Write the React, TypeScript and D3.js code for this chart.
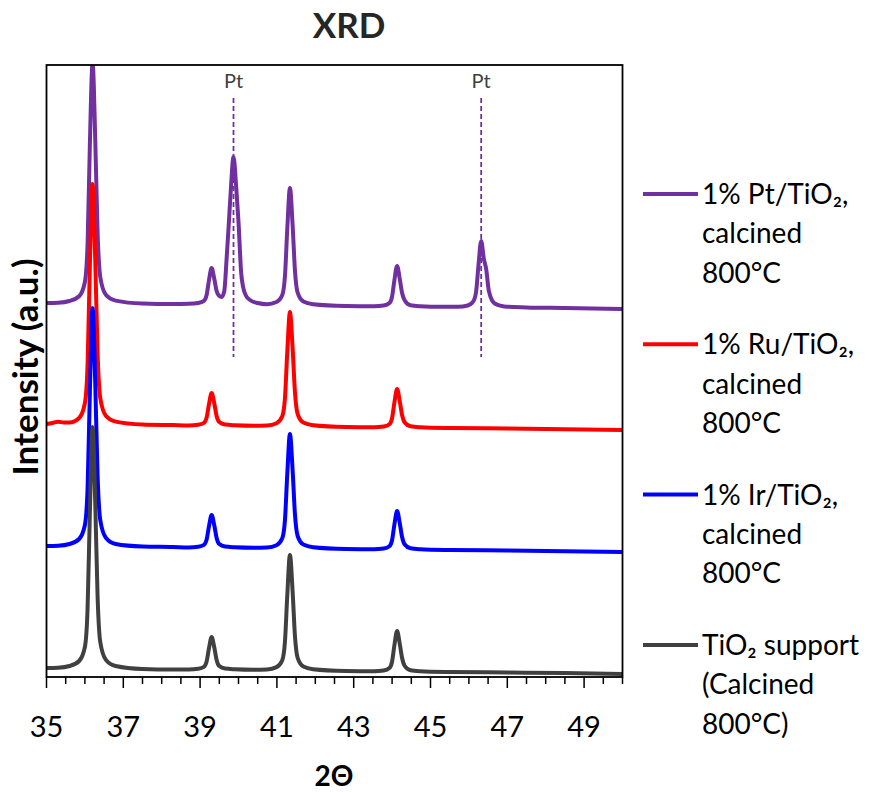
import React from "react";
import * as d3 from "d3";

// ---- data (2θ, intensity a.u. incl. vertical stacking offset) ----
const ptTiO2: [number, number][] = [
  [35, 374], [35.3, 374.3], [35.6, 376], [35.85, 380.7], [36.0, 395], [36.07, 433.8], [36.13, 533.6], [36.2, 614], [36.27, 537], [36.33, 445.6], [36.4, 400], [36.55, 382], [36.8, 376.4],
  [37.5, 373.5], [38.3, 373], [38.7, 373.2], [38.95, 374], [39.1, 376.2], [39.17, 382], [39.23, 396.5], [39.3, 409], [39.37, 398], [39.43, 386], [39.5, 381], [39.56, 380],
  [39.63, 386], [39.69, 418], [39.75, 455], [39.8, 487], [39.87, 520], [39.94, 490], [40.0, 455], [40.07, 404], [40.12, 390], [40.2, 381], [40.3, 377], [40.5, 374],
  [40.74, 372.8], [40.99, 375], [41.14, 382], [41.21, 400.8], [41.27, 447.8], [41.34, 489], [41.41, 451.4], [41.47, 406.7], [41.54, 384.3], [41.69, 375.5], [41.94, 372.8],
  [42.8, 371], [43.53, 370.7], [43.78, 371.5], [43.93, 374], [44.0, 380.5], [44.06, 396.8], [44.13, 411], [44.2, 398], [44.26, 384], [44.33, 376.5], [44.48, 371.7], [44.73, 370.8],
  [45.3, 370.2], [45.72, 370.2], [45.97, 371.5], [46.12, 376], [46.19, 386], [46.25, 412], [46.32, 436], [46.39, 418], [46.45, 408], [46.52, 386], [46.67, 373.5], [46.92, 370.5],
  [47.5, 369.6], [48.5, 369], [50, 368],
];

const ruTiO2: [number, number][] = [
  [35, 253], [35.15, 254], [35.3, 255.3], [35.45, 254.5], [35.6, 254.5], [35.85, 259], [36.0, 274], [36.07, 312.8], [36.13, 412.6], [36.2, 493], [36.27, 416], [36.33, 324.6], [36.4, 279], [36.55, 261], [36.8, 255.4],
  [37.5, 252.5], [38.3, 251.9], [38.7, 251.6], [38.95, 252.3], [39.1, 254.2], [39.17, 259.5], [39.23, 272.5], [39.3, 284], [39.37, 273.5], [39.43, 261.1], [39.5, 254.9], [39.65, 252.4], [39.9, 251.7],
  [40.4, 251.2], [40.74, 251.5], [40.99, 253.8], [41.14, 260.7], [41.21, 279], [41.27, 324.9], [41.34, 365], [41.41, 328.3], [41.47, 284.8], [41.54, 263], [41.69, 254.4], [41.94, 251.8],
  [42.8, 250], [43.53, 249.7], [43.78, 250.5], [43.93, 252.8], [44.0, 259], [44.06, 274.5], [44.13, 288], [44.2, 275.6], [44.26, 262], [44.33, 254.5], [44.48, 250.7], [44.73, 249.8],
  [45.5, 249], [47, 248.5], [48.5, 247.8], [50, 247],
];

const irTiO2: [number, number][] = [
  [35, 131], [35.3, 131.3], [35.6, 133], [35.85, 138], [36.0, 152], [36.07, 189], [36.13, 286], [36.2, 369], [36.27, 293], [36.33, 202], [36.4, 157], [36.55, 139], [36.8, 133],
  [37.5, 130.5], [38.3, 130], [38.7, 129.6], [38.95, 130.3], [39.1, 132.2], [39.17, 137.5], [39.23, 150.5], [39.3, 162], [39.37, 151.5], [39.43, 139.1], [39.5, 132.9], [39.65, 130.4], [39.9, 129.7],
  [40.4, 129.2], [40.74, 129.5], [40.99, 131.8], [41.14, 138.7], [41.21, 157], [41.27, 202.9], [41.34, 243], [41.41, 206.3], [41.47, 162.8], [41.54, 141], [41.69, 132.4], [41.94, 129.8],
  [42.8, 128], [43.53, 127.7], [43.78, 128.5], [43.93, 130.8], [44.0, 137], [44.06, 152.5], [44.13, 166], [44.2, 153.6], [44.26, 140], [44.33, 132.5], [44.48, 128.7], [44.73, 127.8],
  [45.5, 127], [47, 126.5], [48.5, 125.8], [50, 125],
];

const tiO2Support: [number, number][] = [
  [35, 9], [35.3, 9.3], [35.6, 11], [35.85, 16], [36.0, 30], [36.07, 69], [36.13, 165], [36.2, 250], [36.27, 173], [36.33, 81], [36.4, 35], [36.55, 17], [36.8, 11],
  [37.5, 8], [38.3, 7.5], [38.7, 7.6], [38.95, 8.3], [39.1, 10.2], [39.17, 15.5], [39.23, 28.5], [39.3, 40], [39.37, 29.5], [39.43, 17.1], [39.5, 10.9], [39.65, 8.4], [39.9, 7.7],
  [40.4, 7.2], [40.74, 7.6], [40.99, 9.9], [41.14, 16.8], [41.21, 35.3], [41.27, 81.5], [41.34, 122], [41.41, 85], [41.47, 41.1], [41.54, 19.1], [41.69, 10.4], [41.94, 7.8],
  [42.8, 6], [43.53, 5.7], [43.78, 6.5], [43.93, 9], [44.0, 15.5], [44.06, 31.8], [44.13, 46], [44.2, 33], [44.26, 19], [44.33, 11], [44.48, 6.7], [44.73, 5.8],
  [45.5, 5], [47, 4.5], [48.5, 4], [50, 3],
];

const seriesNames = [
  ["1% Pt/TiO₂,", "calcined", "800°C"],
  ["1% Ru/TiO₂,", "calcined", "800°C"],
  ["1% Ir/TiO₂,", "calcined", "800°C"],
  ["TiO₂ support", "(Calcined", "800°C)"],
];
const seriesColors = ["#7030A0", "#FF0000", "#0000FF", "#404040"];
const seriesData = [ptTiO2, ruTiO2, irTiO2, tiO2Support];

const ptReflections = [39.87, 46.32];
const xTickLabels = [35, 37, 39, 41, 43, 45, 47, 49];
const xDomain: [number, number] = [35, 50];
const yDomain: [number, number] = [0, 612];

const FONT = "Lato, 'Open Sans', sans-serif";

export default function App() {
  const left = 46.5, right = 622.5, top = 65, bottom = 677;
  const x = d3.scaleLinear().domain(xDomain).range([left, right]);
  const y = d3.scaleLinear().domain(yDomain).range([bottom, top]);
  const line = d3
    .line<[number, number]>()
    .x((d) => x(d[0]))
    .y((d) => y(d[1]))
    .curve(d3.curveMonotoneX);
  const minorTicks = d3.range(xDomain[0], xDomain[1] + 0.001, 0.5);

  return (
    <svg
      width={869}
      height={792}
      style={{ position: "absolute", left: 0, top: 0, background: "#fff" }}
      fontFamily={FONT}
    >
      <rect x={0} y={0} width={869} height={792} fill="#fff" />
      <text x={349} y={38} textAnchor="middle" fontSize={35} fontWeight="bold" fill="#262626">
        XRD
      </text>

      <defs>
        <clipPath id="plotClip">
          <rect x={left} y={top} width={right - left} height={bottom - top} />
        </clipPath>
      </defs>

      {/* Pt reference lines */}
      {ptReflections.map((p, i) => (
        <g key={"pt" + i}>
          <line x1={x(p)} x2={x(p)} y1={98} y2={357} stroke="#7030A0" strokeWidth={1.8} strokeDasharray="5,3" />
          <text x={x(p)} y={88} textAnchor="middle" fontSize={20} fill="#404040">
            Pt
          </text>
        </g>
      ))}

      <g clipPath="url(#plotClip)">
        {seriesData.map((d, i) => (
          <path
            key={i}
            d={line(d) || ""}
            fill="none"
            stroke={seriesColors[i]}
            strokeWidth={4}
            strokeLinejoin="round"
            strokeLinecap="round"
          />
        ))}
      </g>

      {/* frame */}
      <rect x={left} y={top} width={right - left} height={bottom - top} fill="none" stroke="#000" strokeWidth={1.8} />

      {/* x ticks */}
      {minorTicks.map((t, i) => {
        const major = xTickLabels.includes(t);
        return (
          <line key={"t" + i} x1={x(t)} x2={x(t)} y1={bottom} y2={bottom + (major ? 11 : 7)} stroke="#000" strokeWidth={1.5} />
        );
      })}
      {xTickLabels.map((t) => (
        <text key={"l" + t} x={x(t)} y={737} textAnchor="middle" fontSize={29} fill="#000">
          {t}
        </text>
      ))}

      <text x={334} y={786} textAnchor="middle" fontSize={28} fontWeight="bold" fill="#000">
        2Θ
      </text>
      <text transform="translate(38,367) rotate(-90)" textAnchor="middle" fontSize={35} fontWeight="bold" fill="#000">
        Intensity (a.u.)
      </text>

      {/* legend */}
      {seriesNames.map((lines, i) => {
        const cy = 194 + i * 150.3;
        return (
          <g key={"lg" + i}>
            <line x1={643} x2={698} y1={cy} y2={cy} stroke={seriesColors[i]} strokeWidth={4} />
            {lines.map((s, j) => (
              <text key={j} x={702} y={cy + 10 + j * 39.3} fontSize={28} fill="#000">
                {s}
              </text>
            ))}
          </g>
        );
      })}
    </svg>
  );
}
